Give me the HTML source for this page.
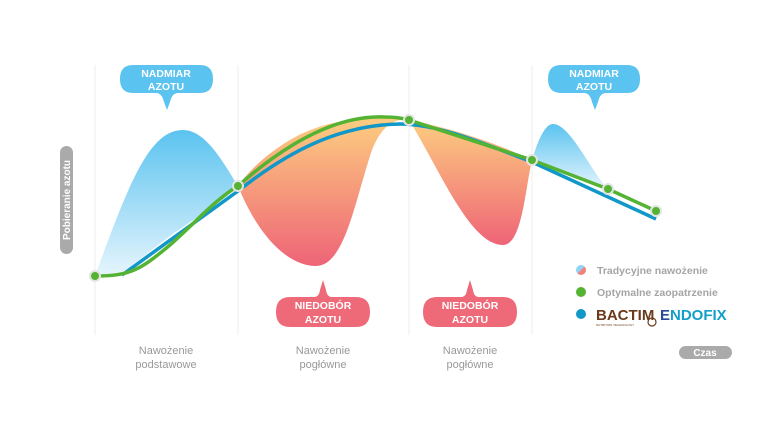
<!DOCTYPE html>
<html><head><meta charset="utf-8"><style>
body{margin:0;background:#fff;}
svg{display:block;font-family:"Liberation Sans",sans-serif;}
</style></head><body>
<svg width="784" height="429" viewBox="0 0 784 429" xmlns="http://www.w3.org/2000/svg">
<defs>
<linearGradient id="bl" x1="0" y1="0" x2="0" y2="1"><stop offset="0" stop-color="#5bc3ef"/><stop offset="1" stop-color="#e6f5fd"/></linearGradient>
<linearGradient id="bl2" x1="0" y1="0" x2="0" y2="1"><stop offset="0" stop-color="#5bc3ef"/><stop offset="1" stop-color="#e6f5fd"/></linearGradient>
<linearGradient id="or" x1="0" y1="0" x2="0" y2="1"><stop offset="0" stop-color="#fdcd80"/><stop offset="1" stop-color="#ee6477"/></linearGradient>
<linearGradient id="lg" x1="0" y1="0" x2="1" y2="1"><stop offset="0.45" stop-color="#8fd3f5"/><stop offset="0.55" stop-color="#f4807a"/></linearGradient>
</defs>
<g stroke="#eeeeee" stroke-width="1">
<line x1="95" y1="65" x2="95" y2="335"/><line x1="238" y1="65" x2="238" y2="335"/>
<line x1="409" y1="65" x2="409" y2="335"/><line x1="532" y1="65" x2="532" y2="335"/>
</g>
<path d="M95,276 C130,180 150,130 183,130 C205,130 222,160 238,186 C225,200 200,215 170,236 C140,258 125,274 110,276 Z" fill="url(#bl)"/>
<path d="M238,186 C260,240 290,266 316,266 C345,266 355,200 372,150 C382,125 395,118 409,120 C380,116 330,116 290,140 C265,155 250,170 238,186 Z" fill="url(#or)"/>
<path d="M409,120 C440,170 470,245 503,245 C522,245 525,190 532,160 C500,145 460,130 409,120 Z" fill="url(#or)"/>
<path d="M532,160 C538,140 545,124 553,124 C570,124 590,170 608,189 C585,178 560,168 532,160 Z" fill="url(#bl2)"/>
<path d="M122,275 L238,191 C290,150 340,125 400,124 C440,124 490,146 532,162 L656,219" fill="none" stroke="#1197c8" stroke-width="3.5"/>
<path d="M95,276 C130,276 140,270 170,245 C200,218 215,200 238,186 C290,140 340,115 385,117 C395,117 402,118 409,120 L532,160 L608,189 L656,211" fill="none" stroke="#55b333" stroke-width="3.5"/>
<g fill="#55b333" stroke="#e4e4e4" stroke-width="2">
<circle cx="95" cy="276" r="5"/><circle cx="238" cy="186" r="5"/><circle cx="409" cy="120" r="5"/>
<circle cx="532" cy="160" r="5"/><circle cx="608" cy="189" r="5"/><circle cx="656" cy="211" r="5"/>
</g>
<g font-weight="bold" font-size="10.5" fill="#fff" text-anchor="middle">
<path d="M133,65 H200 Q213,65 213,79 Q213,93 200,93 H178 Q172,93 170,102 L167,110 L164,102 Q162,93 156,93 H133 Q120,93 120,79 Q120,65 133,65 Z" fill="#5bc3ef"/>
<text x="166" y="77" fill="#fff">NADMIAR</text><text x="166" y="90" fill="#fff">AZOTU</text>
<path d="M561,65 H627 Q640,65 640,79 Q640,93 627,93 H606 Q600,93 598,102 L595,110 L592,102 Q590,93 584,93 H561 Q548,93 548,79 Q548,65 561,65 Z" fill="#5bc3ef"/>
<text x="594" y="77" fill="#fff">NADMIAR</text><text x="594" y="90" fill="#fff">AZOTU</text>
<path d="M290,297 H314 Q319,297 320,290 L323,280 L326,290 Q327,297 332,297 H356 Q370,297 370,312 Q370,327 356,327 H290 Q276,327 276,312 Q276,297 290,297 Z" fill="#ee6a78"/>
<text x="323" y="309" fill="#fff">NIEDOBÓR</text><text x="323" y="323" fill="#fff">AZOTU</text>
<path d="M437,297 H461 Q466,297 467,290 L470,280 L473,290 Q474,297 479,297 H503 Q517,297 517,312 Q517,327 503,327 H437 Q423,327 423,312 Q423,297 437,297 Z" fill="#ee6a78"/>
<text x="470" y="309" fill="#fff">NIEDOBÓR</text><text x="470" y="323" fill="#fff">AZOTU</text>
</g>
<rect x="60" y="146" width="13" height="108" rx="6.5" fill="#aaaaaa"/>
<text transform="translate(70,200) rotate(-90)" text-anchor="middle" font-size="10" font-weight="bold" fill="#fff">Pobieranie azotu</text>
<g font-size="11" fill="#999" text-anchor="middle">
<text x="166" y="354">Nawożenie</text><text x="166" y="368">podstawowe</text>
<text x="323" y="354">Nawożenie</text><text x="323" y="368">pogłówne</text>
<text x="470" y="354">Nawożenie</text><text x="470" y="368">pogłówne</text>
</g>
<rect x="679" y="346" width="53" height="13" rx="6.5" fill="#aaaaaa"/>
<text x="705" y="356" text-anchor="middle" font-size="10" font-weight="bold" fill="#fff">Czas</text>
<circle cx="581" cy="270" r="5" fill="url(#lg)"/>
<circle cx="581" cy="292" r="5" fill="#55b333"/>
<circle cx="581" cy="314" r="5" fill="#1197c8"/>
<g font-size="10.5" font-weight="bold" fill="#a5a5a5">
<text x="597" y="274">Tradycyjne nawożenie</text>
<text x="597" y="296">Optymalne zaopatrzenie</text>
</g>
<text x="596" y="320" font-size="15" font-weight="bold" fill="#6b3a1c">BACTIM</text>
<text x="596" y="326" font-size="3" fill="#6b3a1c">NUTRITION TECHNOLOGY</text>
<circle cx="652" cy="322" r="4" fill="none" stroke="#6b3a1c" stroke-width="1.2"/>
<text x="660" y="320" font-size="15" font-weight="bold" fill="#2a4a9a">E</text>
<text x="670" y="320" font-size="15" font-weight="bold" fill="#12a0c9">NDOFIX</text>
</svg>
</body></html>
